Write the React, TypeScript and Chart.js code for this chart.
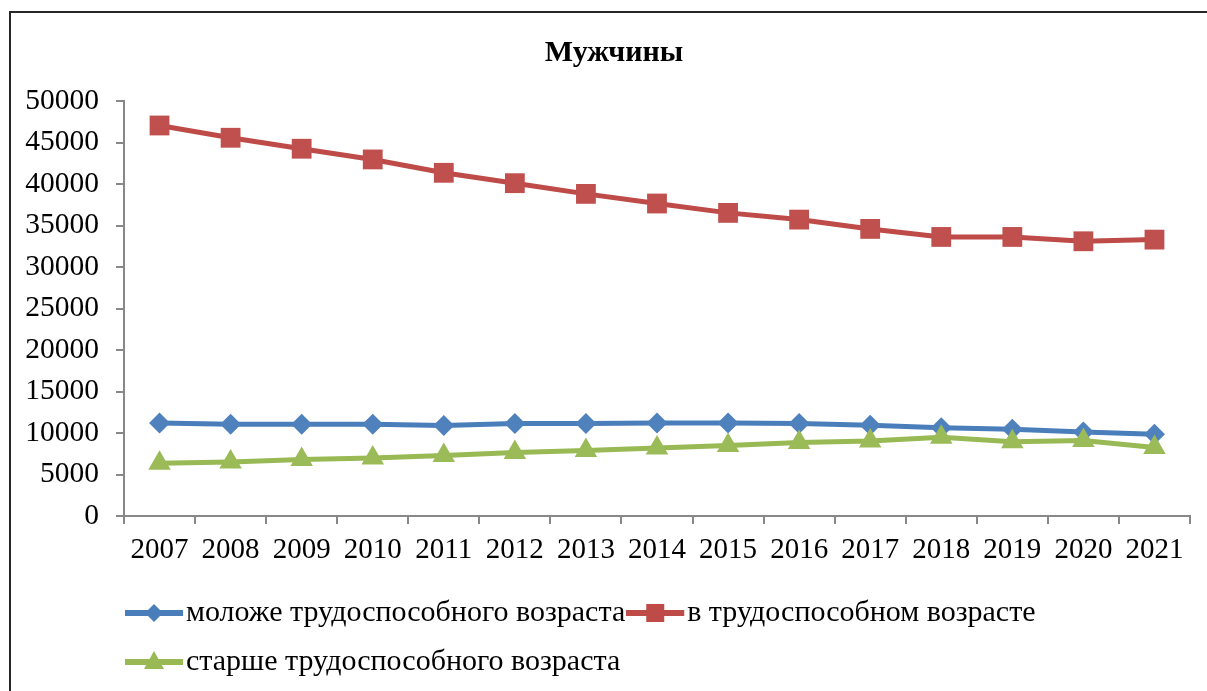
import React, { useEffect, useRef } from 'react';
import { Chart, registerables } from 'chart.js';

Chart.register(...registerables);

const years = ['2007', '2008', '2009', '2010', '2011', '2012', '2013', '2014', '2015', '2016', '2017', '2018', '2019', '2020', '2021'];
const youngerValues = [11200, 11050, 11050, 11050, 10900, 11130, 11130, 11210, 11210, 11130, 10930, 10640, 10440, 10120, 9840];
const workingValues = [47050, 45570, 44250, 42960, 41350, 40100, 38810, 37650, 36520, 35710, 34590, 33620, 33620, 33100, 33300];
const olderValues = [6350, 6500, 6800, 7000, 7300, 7650, 7900, 8200, 8500, 8850, 9050, 9500, 8950, 9100, 8250];
const seriesNames = ['моложе трудоспособного возраста', 'в трудоспособном возрасте', 'старше трудоспособного возраста'];
const titleText = 'Мужчины';
const yMin = 0;
const yMax = 50000;
const yStep = 5000;

const FONT = '"Liberation Serif", "Times New Roman", serif';
const BLUE = '#4A7EBB';
const RED = '#BE4B48';
const GREEN = '#98B954';
const AXIS = '#888888';

function legendIcon(color: string, shape: string): HTMLCanvasElement {
  const c = document.createElement('canvas');
  c.width = 64;
  c.height = 26;
  const g = c.getContext('2d')!;
  const cy = 13;
  const cx = 29;
  g.strokeStyle = color;
  g.lineWidth = 6;
  g.beginPath();
  g.moveTo(0, cy);
  g.lineTo(58, cy);
  g.stroke();
  g.fillStyle = color;
  g.beginPath();
  if (shape === 'diamond') {
    g.moveTo(cx - 9, cy);
    g.lineTo(cx, cy - 9);
    g.lineTo(cx + 9, cy);
    g.lineTo(cx, cy + 9);
  } else if (shape === 'square') {
    g.rect(cx - 9, cy - 9, 18, 18);
  } else {
    g.moveTo(cx, cy - 11);
    g.lineTo(cx + 10, cy + 7);
    g.lineTo(cx - 10, cy + 7);
  }
  g.closePath();
  g.fill();
  return c;
}

export default function App() {
  const ref = useRef<HTMLCanvasElement>(null);

  useEffect(() => {
    const icons = [legendIcon(BLUE, 'diamond'), legendIcon(RED, 'square'), legendIcon(GREEN, 'triangle')];

    const framePlugin = {
      id: 'frame',
      beforeDraw(chart: any) {
        const { ctx } = chart;
        ctx.save();
        ctx.fillStyle = '#ffffff';
        ctx.fillRect(0, 0, chart.width, chart.height);
        ctx.strokeStyle = '#262626';
        ctx.lineWidth = 2;
        ctx.strokeRect(10, 12, 1400, 900);
        ctx.restore();
      },
    };

    const chart = new Chart(ref.current!, {
      type: 'line',
      data: {
        labels: years,
        datasets: [
          {
            label: seriesNames[0],
            data: youngerValues,
            borderColor: BLUE,
            backgroundColor: BLUE,
            borderWidth: 5,
            pointStyle: 'rectRot',
            pointRadius: 10.5,
            pointBackgroundColor: '#4F81BD',
            pointBorderColor: '#4F81BD',
            pointBorderWidth: 0,
            tension: 0,
            order: 3,
          },
          {
            label: seriesNames[1],
            data: workingValues,
            borderColor: RED,
            backgroundColor: RED,
            borderWidth: 5,
            pointStyle: 'rect',
            pointRadius: 14,
            pointBackgroundColor: '#C0504D',
            pointBorderColor: '#C0504D',
            pointBorderWidth: 0,
            tension: 0,
            order: 2,
          },
          {
            label: seriesNames[2],
            data: olderValues,
            borderColor: GREEN,
            backgroundColor: GREEN,
            borderWidth: 5,
            pointStyle: 'triangle',
            pointRadius: 13,
            pointBackgroundColor: '#9BBB59',
            pointBorderColor: '#9BBB59',
            pointBorderWidth: 0,
            tension: 0,
            order: 1,
          },
        ],
      },
      options: {
        animation: false,
        responsive: false,
        devicePixelRatio: 1,
        layout: { padding: { left: 0, right: 0, top: 0, bottom: 4 } },
        plugins: {
          title: {
            display: true,
            text: titleText,
            color: '#000',
            font: { family: FONT, size: 30, weight: 'bold' },
            padding: { top: 35, bottom: 30 },
          },
          legend: {
            display: true,
            position: 'bottom',
            align: 'start',
            fullSize: false,
            labels: {
              usePointStyle: true,
              pointStyleWidth: 28,
              padding: 19,
              color: '#000',
              font: { family: FONT, size: 30 },
              generateLabels: (ch: any) => {
                const items = (Chart.defaults.plugins.legend.labels as any).generateLabels(ch);
                items.sort((a: any, b: any) => a.datasetIndex - b.datasetIndex);
                items.forEach((it: any) => {
                  it.pointStyle = icons[it.datasetIndex];
                  it.lineWidth = 0;
                });
                return items;
              },
            },
          },
          tooltip: { enabled: false },
        },
        scales: {
          x: {
            type: 'category',
            offset: true,
            grid: { offset: true, drawOnChartArea: false, drawTicks: true, tickLength: 8, color: AXIS, lineWidth: 2 },
            border: { display: true, color: AXIS, width: 2 },
            ticks: { color: '#000', font: { family: FONT, size: 29 }, padding: 9, maxRotation: 0, autoSkip: false },
            afterFit: (s: any) => {
              s.height = 63;
            },
          },
          y: {
            type: 'linear',
            min: yMin,
            max: yMax,
            grid: { drawOnChartArea: false, drawTicks: true, tickLength: 8, color: AXIS, lineWidth: 2 },
            border: { display: true, color: AXIS, width: 2 },
            ticks: {
              stepSize: yStep,
              color: '#000',
              font: { family: FONT, size: 29.5 },
              padding: 17,
              callback: (v: any) => String(v),
            },
            afterFit: (s: any) => {
              s.width = 124;
            },
          },
          yR: {
            type: 'linear',
            position: 'right',
            display: true,
            grid: { display: false, drawTicks: false },
            border: { display: false },
            ticks: { display: false },
            afterFit: (s: any) => {
              s.width = 38;
            },
          },
        },
      } as any,
      plugins: [framePlugin],
    });

    return () => chart.destroy();
  }, []);

  return (
    <div style={{ position: 'absolute', left: 0, top: 0, width: 1207, height: 691, overflow: 'hidden', background: '#fff' }}>
      <canvas ref={ref} width={1228} height={691} style={{ display: 'block', width: 1228, height: 691 }} />
    </div>
  );
}
